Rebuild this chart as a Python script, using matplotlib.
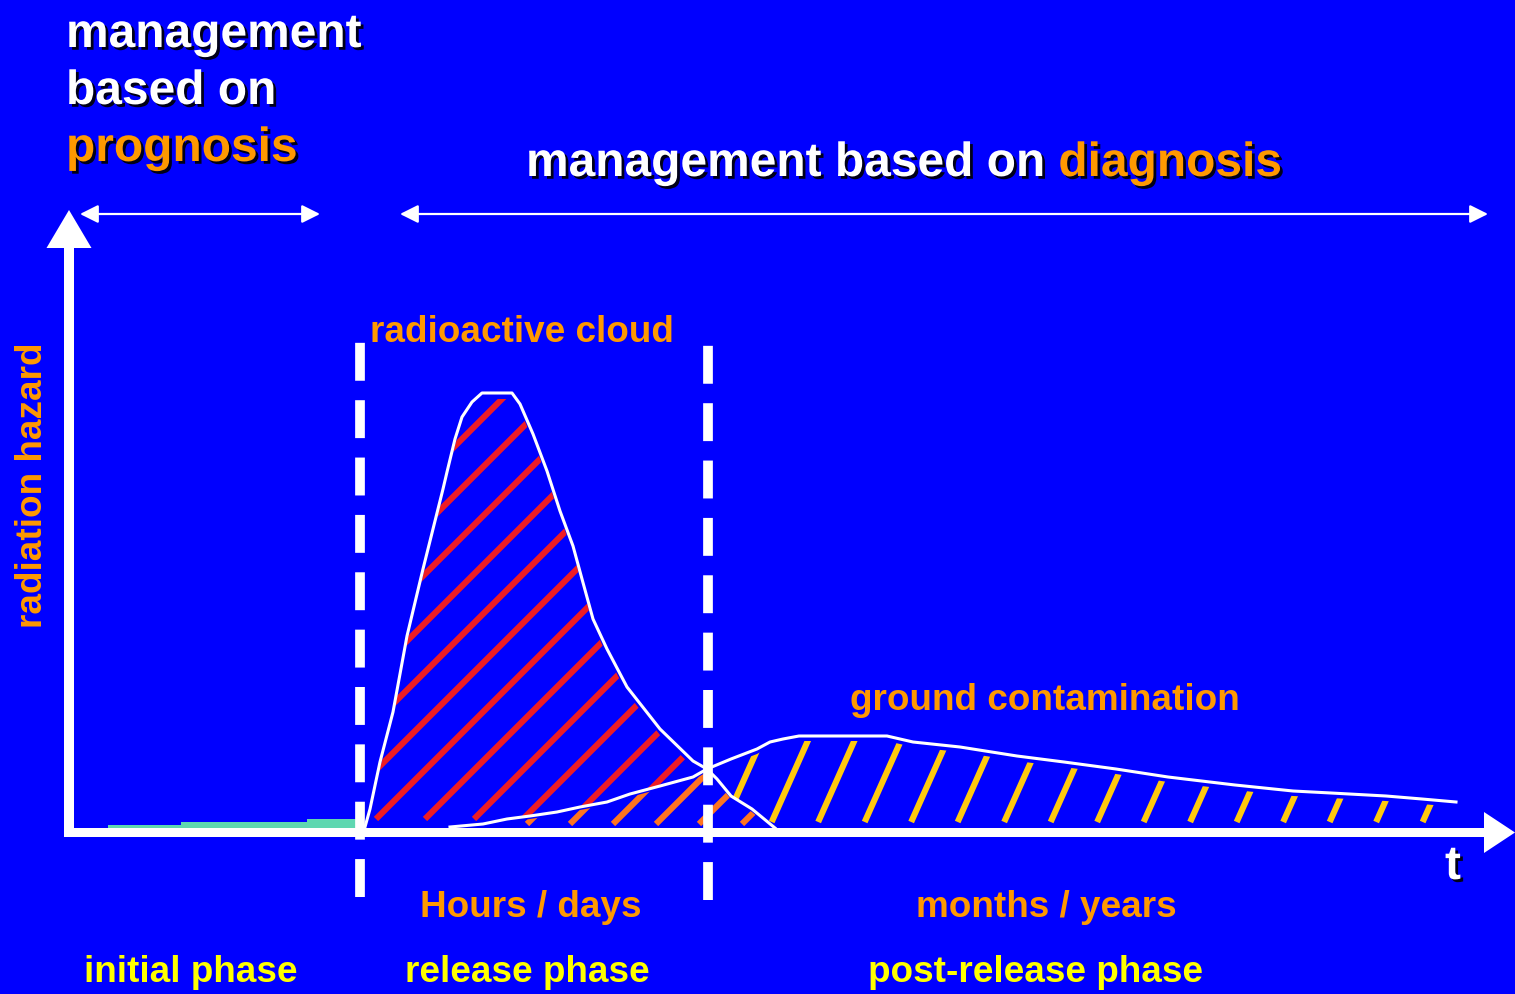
import matplotlib
matplotlib.use("Agg")
import matplotlib.pyplot as plt
import matplotlib.patheffects as pe
import numpy as np
from matplotlib.collections import LineCollection
from matplotlib.patches import Polygon

BG = "#0000ff"
WHITE = "#ffffff"
ORANGE = "#ff9900"
YELLOW = "#ffff00"
TEAL = "#5fd7b0"

plt.rcParams["font.family"] = ["Liberation Sans", "DejaVu Sans"]
plt.rcParams["font.weight"] = "bold"

# time axis in screen units, hazard measured upward from the time axis
cloud_t = [365, 370, 380, 393, 407, 423, 443, 447, 455, 462, 472, 482, 512, 520, 533,
           547, 560, 573, 582, 593, 607, 627, 660, 693, 707, 717, 731, 752, 775]
cloud_h = [1, 19, 66, 116, 192, 259, 339, 356, 389, 411, 426, 435, 435, 424, 394,
           357, 317, 282, 249, 209, 179, 141, 99, 67, 59, 49, 32, 19, 0]

ground_t = [450, 483, 507, 530, 557, 580, 607, 630, 660, 693, 707, 731, 757, 770, 783,
            799, 887, 913, 960, 1017, 1064, 1116, 1168, 1235, 1293, 1331, 1386, 1422, 1456]
ground_h = [1, 4, 9, 12, 16, 21, 26, 34, 42, 51, 59, 69, 79, 86, 89,
            92, 92, 86, 81, 72, 66, 59, 51, 43, 37, 35, 32, 29, 26]

initial_edges = [108, 181, 307, 356]
initial_h = [3, 6, 9]

phase_bounds = [360, 708]
phase_names = ["initial phase", "release phase", "post-release phase"]
phase_label_x = [191, 527, 1036]
duration_names = ["Hours / days", "months / years"]
duration_x = [531, 1046]


def hatch(offsets, angle, bottom, height=600):
    run = 1.0 / np.tan(np.radians(angle))
    return [[(c + bottom * run, bottom), (c + height * run, height)] for c in offsets]


def hatched_region(xs, top, low, offsets, angle, bottom, color):
    verts = np.vstack([np.column_stack([xs, top]), np.column_stack([xs[::-1], low[::-1]])])
    clip = Polygon(verts, closed=True, facecolor="none", edgecolor="none")
    ax.add_patch(clip)
    lc = LineCollection(hatch(offsets, angle, bottom), colors=color, linewidths=4.4,
                        capstyle="butt")
    ax.add_collection(lc)
    lc.set_clip_path(clip)


fig = plt.figure(figsize=(15.15, 9.95), dpi=100, facecolor=BG)
ax = fig.add_axes([0, 0, 1, 1])
ax.set_facecolor(BG)
ax.set_xlim(0, 1515)
ax.set_ylim(-166, 829)
ax.axis("off")

# hatched areas
xs = np.linspace(cloud_t[0], cloud_t[-1], 600)
c_i = np.interp(xs, cloud_t, cloud_h)
g_i = np.interp(xs, ground_t, ground_h, left=0)
low = np.minimum(c_i, g_i)
hatched_region(xs, np.maximum(c_i - 6, low), low, np.arange(-172, 780, 49), 45, 9, "#ee1c24")
hatched_region(xs, np.maximum(low - 3, 0), np.zeros_like(xs), np.arange(351, 780, 43), 45, 4, "#ff7420")

xg = np.linspace(phase_bounds[1] - 1, ground_t[-1], 800)
g2 = np.interp(xg, ground_t, ground_h)
c2 = np.interp(xg, cloud_t, cloud_h, right=0)
low2 = np.minimum(c2, g2)
hatched_region(xg, np.maximum(g2 - 5, low2), low2, np.arange(676, 1460, 46.5), 66, 6, "#ffc90e")

# initial phase level
ax.stairs(initial_h, initial_edges, fill=True, color=TEAL, baseline=0)

# curves
ax.plot(cloud_t, cloud_h, color=WHITE, lw=2.2, solid_joinstyle="round")
ax.plot(ground_t, ground_h, color=WHITE, lw=2.2, solid_joinstyle="round")

# axes with arrow heads
ax.arrow(64, -4.5, 1451, 0, width=9, head_width=41, head_length=31,
         length_includes_head=True, color=WHITE, lw=0)
ax.arrow(69, -9, 0, 627, width=10, head_width=45, head_length=38,
         length_includes_head=True, color=WHITE, lw=0)

# phase boundaries
for xb, top, bot in zip(phase_bounds, [494, 496], [-69, -72]):
    ax.plot([xb, xb], [bot, top], color=WHITE, lw=7, linestyle=(0, (3.9, 2.0)),
            solid_capstyle="butt", dash_capstyle="butt")

# management spans
for x0, x1 in [(80, 320), (400, 1488)]:
    ax.annotate("", xy=(x1, 614), xytext=(x0, 614),
                arrowprops=dict(arrowstyle="<|-|>,head_length=1.1,head_width=0.55",
                                color=WHITE, lw=1.6, shrinkA=0, shrinkB=0))

shadow = [pe.SimplePatchShadow(offset=(2, -2), shadow_rgbFace="black", alpha=0.9), pe.Normal()]
big = 34.5
mid = 26.6

ax.text(66, 781, "management", color=WHITE, fontsize=big, path_effects=shadow)
ax.text(66, 724, "based on", color=WHITE, fontsize=big, path_effects=shadow)
ax.text(66, 667, "prognosis", color=ORANGE, fontsize=big, path_effects=shadow)

t1 = ax.text(526, 652, "management based on", color=WHITE, fontsize=big,
             va="baseline", path_effects=shadow)
ax.annotate("diagnosis", xy=(1, 0), xycoords=t1, xytext=(9.6, 0),
            textcoords="offset points", va="bottom", color=ORANGE, fontsize=big,
            path_effects=shadow)
fig.canvas.draw()

ax.text(370, 487, "radioactive cloud", color=ORANGE, fontsize=mid)
ax.text(850, 119, "ground contamination", color=ORANGE, fontsize=mid)
ax.text(33, 344, "radiation hazard", color=ORANGE, fontsize=mid, rotation=90,
        ha="center", va="center")
ax.text(1445, -51, "t", color=WHITE, fontsize=big, path_effects=shadow)

for name, x in zip(duration_names, duration_x):
    ax.text(x, -88, name, color=ORANGE, fontsize=mid, ha="center")
for name, x in zip(phase_names, phase_label_x):
    ax.text(x, -153, name, color=YELLOW, fontsize=mid, ha="center")

fig.savefig("out.png", dpi=100, facecolor=BG)
